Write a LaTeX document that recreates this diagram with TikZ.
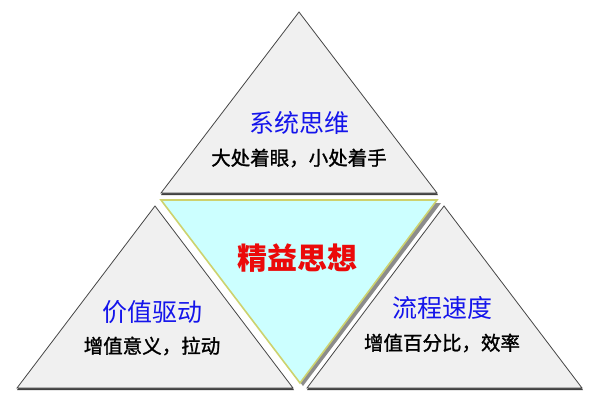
\documentclass[tikz,border=0pt]{standalone}
\usepackage{fontspec}
\newfontfamily\cjk{Noto Sans CJK SC}
\newfontfamily\cjkmed[FakeBold=1.3]{Noto Sans CJK SC}
\definecolor{trifill}{RGB}{240,240,240}
\definecolor{triedge}{RGB}{70,70,70}
\definecolor{cyanfill}{RGB}{204,255,255}
\definecolor{cyanedge}{RGB}{205,210,110}
\definecolor{titleblue}{RGB}{20,20,235}
\definecolor{titlered}{RGB}{235,10,10}
\tikzset{
  tri/.style={fill=trifill, draw=triedge, line width=0.8pt, line join=miter},
  trishadow/.style={fill=black!75, draw=none},
  centretri/.style={fill=cyanfill, draw=cyanedge, line width=1.6pt, line join=miter},
  centreshadow/.style={fill=black!45, draw=none},
  bluetitle/.style={font=\cjk\fontsize{25}{27}\selectfont, text=titleblue, inner sep=0pt},
  subtitle/.style={font=\cjkmed\fontsize{19.5}{22}\selectfont, text=black, inner sep=0pt},
  redtitle/.style={font=\cjk\bfseries\fontsize{30}{32}\selectfont, text=titlered, inner sep=0pt}
}
\begin{document}
\begin{tikzpicture}[x=1pt,y=-1pt]
\useasboundingbox[fill=white] (0,0) rectangle (600,400);
% top triangle
\fill[trishadow] (299,13) -- (438,195) -- (161,195) -- cycle;
\path[tri] (299,12) -- (437,193) -- (161,193) -- cycle;
% bottom-left triangle
\fill[trishadow] (155,207) -- (294,390) -- (17,390) -- cycle;
\path[tri] (155,206) -- (293,388) -- (17,388) -- cycle;
% bottom-right triangle
\fill[trishadow] (444,207) -- (583,390) -- (307,390) -- cycle;
\path[tri] (444,206) -- (582,388) -- (307,388) -- cycle;
% centre inverted triangle
\fill[centreshadow] (164,203) -- (441,203) -- (303,386) -- cycle;
\path[centretri] (161,200) -- (437,200) -- (300,383) -- cycle;
% texts
\node[bluetitle] (t1) at (299,123) {系统思维};
\node[subtitle] (s1) at (299,158) {大处着眼，小处着手};
\node[bluetitle] (t2) at (152,312) {价值驱动};
\node[subtitle] (s2) at (152,346) {增值意义，拉动};
\node[bluetitle] (t3) at (442,308) {流程速度};
\node[subtitle] (s3) at (442,343) {增值百分比，效率};
\node[redtitle] (c) at (297,258) {精益思想};
\end{tikzpicture}
\end{document}
